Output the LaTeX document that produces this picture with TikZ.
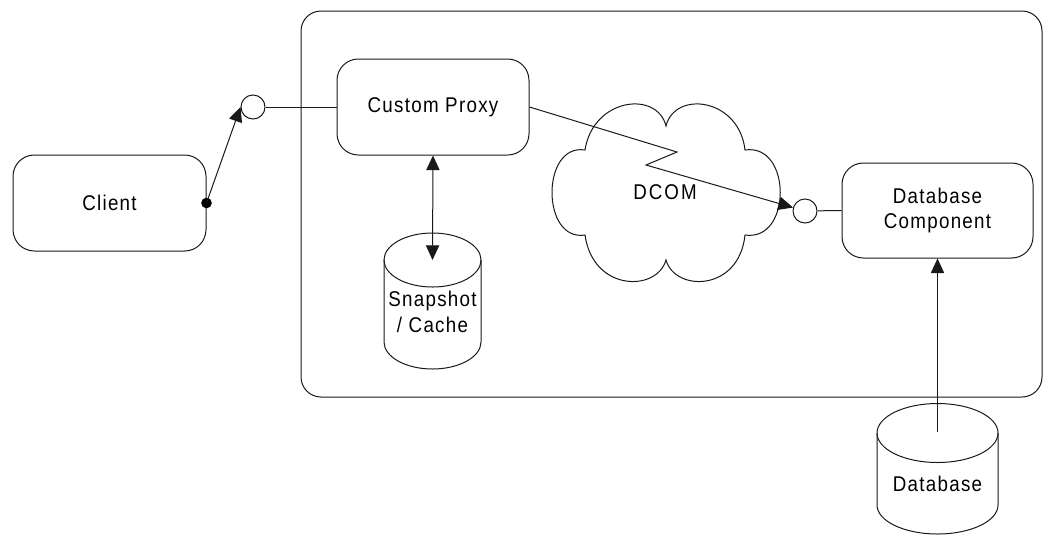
\documentclass[tikz,border=0pt]{standalone}
\usepackage{fontspec}
\setmainfont{Liberation Sans}[FakeStretch=0.88, LetterSpace=6]
\usetikzlibrary{arrows.meta}
\tikzset{
  ln/.style={line width=0.75pt, draw=black!90},
  tri/.tip={Triangle[length=11pt, width=10pt]},
  rbox/.style={ln, rounded corners=16pt, align=center, inner sep=0pt},
  lolli/.style={ln, circle, minimum size=18pt, inner sep=0pt, fill=white},
  lbl/.style={align=center, inner sep=0pt, font=\fontsize{16}{19}\selectfont},
}
\begin{document}
\begin{tikzpicture}[x=0.75pt, y=-0.75pt, font=\fontsize{16}{19}\selectfont]
\useasboundingbox (0,0) rectangle (1045,536);
% container
\node[rbox, rounded corners=15pt, minimum width=741*0.75pt, minimum height=386*0.75pt] (frame) at (671.5,204) {};
% boxes
\node[rbox, minimum width=193*0.75pt, minimum height=96*0.75pt] (client) at (109.5,203) {Client};
\node[rbox, minimum width=192*0.75pt, minimum height=96*0.75pt] (proxy) at (433,107) {Custom Proxy};
\node[rbox, minimum width=191*0.75pt, minimum height=95*0.75pt] (dbcomp) at (937.5,210.5) {Database\\Component};
% cloud
\draw[ln] (585,150) .. controls (593,98) and (657,90) .. (666,126)
  .. controls (675,90) and (739,98) .. (745,150)
  .. controls (792,143) and (792,242) .. (745,235)
  .. controls (739,292) and (675,292) .. (666,260)
  .. controls (657,292) and (593,292) .. (585,235)
  .. controls (541,242) and (541,143) .. cycle;
\node[lbl] (dcom) at (665,192) {D\kern1.5pt C\kern1.5pt O\kern1.5pt M};
% snapshot cylinder
\draw[ln] (432.5,260) ellipse [x radius=36.375pt, y radius=20.25pt];
\draw[ln] (384,260) -- (384,342) arc[start angle=180, end angle=360, x radius=36.375pt, y radius=20.25pt] -- (481,260);
\node[lbl] (snap) at (432.5,312) {Snapshot\\/ Cache};
\coordinate (snapTip) at (432.5,260);
% database cylinder
\draw[ln] (937.5,433) ellipse [x radius=45.375pt, y radius=22.125pt];
\draw[ln] (877,433) -- (877,505) arc[start angle=180, end angle=360, x radius=45.375pt, y radius=21.75pt] -- (998,433);
\node[lbl] (db) at (937.5,484) {Database};
\coordinate (dbTip) at (937.5,432);
% lollipops
\node[lolli] (lolL) at (253,107) {};
\node[lolli] (lolR) at (805,211) {};
\node[circle, fill=black, minimum size=8pt, inner sep=0pt] (dot) at (client.east) {};
% connectors
\draw[ln] (lolL) -- (proxy.west);
\draw[ln, -tri] (dot.center) -- (lolL.west);
\draw[ln] (lolR) -- (dbcomp.west);
\coordinate (z1) at (677,152);
\coordinate (z2) at (646,165);
\draw[ln, -tri] (proxy.east) -- (z1) -- (z2) -- (lolR);
\draw[ln, tri-tri] (proxy.south) -- (snapTip);
\draw[ln, -tri] (dbTip) -- (dbcomp.south);
\end{tikzpicture}
\end{document}
